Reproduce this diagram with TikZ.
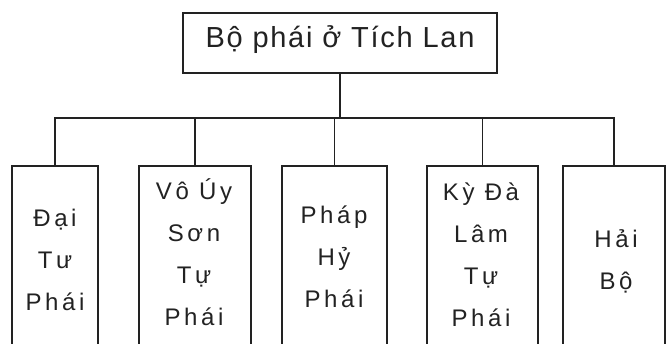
\documentclass[tikz,border=0pt]{standalone}
\usepackage{fontspec}
\setmainfont{Liberation Sans}
\newfontfamily\topfont[LetterSpace=6]{Liberation Sans}
\newfontfamily\boxfont[LetterSpace=15]{Liberation Sans}
\definecolor{ink}{HTML}{222222}
\tikzset{
  x=1pt, y=-1pt,
  line/.style={draw=ink, line width=1.5pt},
  topbox/.style={line, rectangle, minimum width=314pt, minimum height=60pt, inner sep=0pt,
    font=\topfont\fontsize{29}{32}\selectfont, text=ink, text height=20pt, text depth=12pt},
  sect/.style={line, rectangle, anchor=north, minimum height=220pt, inner sep=0pt},
  lbl/.style={align=center, text=ink, inner sep=0pt, font=\boxfont\fontsize{24}{42}\selectfont},
}
\newcommand{\tstrut}{\rule{0pt}{22pt}}
\newcommand{\bstrut}{\rule[-5pt]{0pt}{5pt}}
\begin{document}
\begin{tikzpicture}
\useasboundingbox (0,0) rectangle (666,343);
\clip (0,0) rectangle (666,343);
\fill[white] (0,0) rectangle (666,343);
\node[topbox] (top) at (340,43) {Bộ phái ở Tích Lan};
\node[sect, minimum width=86pt]  (b1) at (55,165) {};
\node[sect, minimum width=112pt] (b2) at (195,165) {};
\node[sect, minimum width=105pt] (b3) at (334.5,165) {};
\node[sect, minimum width=111pt] (b4) at (482.5,165) {};
\node[sect, minimum width=102pt] (b5) at (614,165) {};
\coordinate (bus) at (0,118);
\draw[line] (top.south) -- (top.south |- bus);
\draw[line] (b1.north) |- (bus -| b5.north) -- (b5.north);
\draw[line] (b2.north) -- (b2.north |- bus);
\draw[line] (b3.north) -- (b3.north |- bus);
\draw[line] (b4.north) -- (b4.north |- bus);
\node[lbl] (t1) at (55,260) {\tstrut Đại\\Tư\\Phái\bstrut};
\node[lbl] (t2) at (194,254) {\tstrut Vô Úy\\Sơn\\Tự\\Phái\bstrut};
\node[lbl] (t3) at (334,256.5) {\tstrut Pháp\\Hỷ\\Phái\bstrut};
\node[lbl] (t4) at (481,255) {\tstrut Kỳ Đà\\Lâm\\Tự\\Phái\bstrut};
\node[lbl] (t5) at (616,260) {\tstrut Hải\\Bộ\bstrut};
\end{tikzpicture}
\end{document}
